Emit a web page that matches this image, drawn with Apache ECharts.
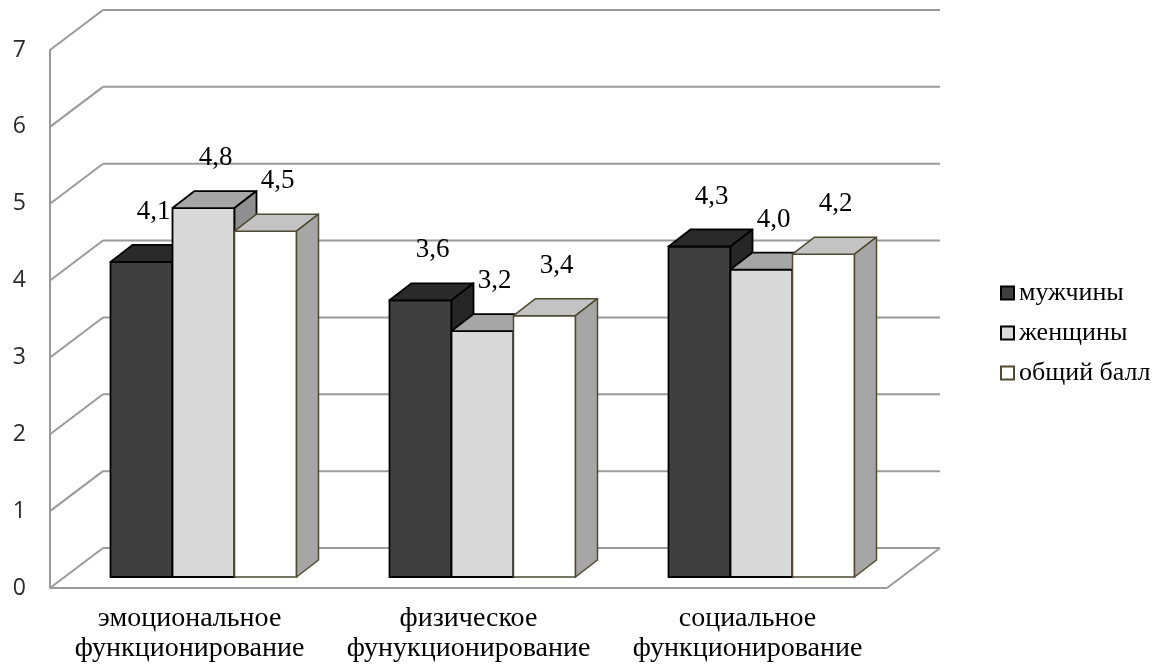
<!DOCTYPE html>
<html>
<head>
<meta charset="utf-8">
<script src="https://cdn.jsdelivr.net/npm/echarts@6/dist/echarts.min.js"></script>
<style>
  html, body { margin: 0; padding: 0; background: #fff; }
  #chart { width: 1162px; height: 670px; }
</style>
</head>
<body>
<div id="chart"></div>
<script>
// Scores by functioning domain
const categories = [
  'эмоциональное\nфункционирование',
  'физическое\nфунукционирование',
  'социальное\nфункционирование'
];
const seriesNames = ['мужчины', 'женщины', 'общий балл'];
const men = [4.1, 3.6, 4.3];
const women = [4.8, 3.2, 4.0];
const total = [4.5, 3.4, 4.2];
const yTicks = [0, 1, 2, 3, 4, 5, 6, 7];

// Pseudo-3D geometry (pixels)
const WALL_DX = 53, WALL_DY = -40;     // depth of the back wall
const FRONT_DX = 14, FRONT_DY = -11;   // bar front face inset
const BAR_DX = 22, BAR_DY = -17;       // bar depth
const BAR_RATIO = 62 / 279;            // bar width per category band

const palette = [
  { front: '#3f3f3f', top: '#2a2a2a', side: '#262626', stroke: '#000000' },
  { front: '#d9d9d9', top: '#a6a6a6', side: '#8f8f8f', stroke: '#000000' },
  { front: '#ffffff', top: '#c3c3c3', side: '#a6a6a6', stroke: '#4f4a32' }
];

const GRID_COLOR = '#9a9a9a';
const serif = '"Liberation Serif", "Times New Roman", serif';

function fmt(v) { return v.toFixed(1).replace('.', ','); }

function frameItem(params, api) {
  const cs = params.coordSys;
  const v = api.value(0);
  const y = api.coord([0, v])[1];
  const left = cs.x, right = cs.x + cs.width;
  const lineStyle = { stroke: GRID_COLOR, lineWidth: 2 };
  const children = [
    { type: 'line', shape: { x1: left, y1: y, x2: left + WALL_DX, y2: y + WALL_DY }, style: lineStyle },
    { type: 'line', shape: { x1: left + WALL_DX, y1: y + WALL_DY, x2: right + WALL_DX, y2: y + WALL_DY }, style: lineStyle }
  ];
  if (v === 0) {
    children.push(
      { type: 'line', shape: { x1: left, y1: y, x2: right, y2: y }, style: lineStyle },
      { type: 'line', shape: { x1: right, y1: y, x2: right + WALL_DX, y2: y + WALL_DY }, style: lineStyle }
    );
  }
  return { type: 'group', children };
}

function barItem(idx) {
  const c = palette[idx];
  return function (params, api) {
    const cat = api.value(0), val = api.value(1);
    const base = api.coord([cat, 0]);
    const top = api.coord([cat, val]);
    const band = api.size([1, 0])[0];
    const bw = band * BAR_RATIO;
    const x0 = base[0] + FRONT_DX - 1.5 * bw + idx * bw;
    const x1 = x0 + bw;
    const yb = base[1] + FRONT_DY;
    const yt = top[1] + FRONT_DY;
    const sw = idx === 2 ? 1.5 : 1.8;
    const cx = (x0 + x1) / 2;
    return {
      type: 'group',
      children: [
        { type: 'rect', shape: { x: x0, y: yt, width: bw, height: yb - yt },
          style: { fill: c.front, stroke: c.stroke, lineWidth: sw } },
        { type: 'polygon', shape: { points: [[x0, yt], [x1, yt], [x1 + BAR_DX, yt + BAR_DY], [x0 + BAR_DX, yt + BAR_DY]] },
          style: { fill: c.top, stroke: c.stroke, lineWidth: sw, lineJoin: 'round' } },
        { type: 'polygon', shape: { points: [[x1, yt], [x1 + BAR_DX, yt + BAR_DY], [x1 + BAR_DX, yb + BAR_DY], [x1, yb]] },
          style: { fill: c.side, stroke: c.stroke, lineWidth: sw, lineJoin: 'round' } },
        { type: 'text', x: cx + 12, y: yt - 50, z2: 10,
          style: { text: fmt(val), x: 0, y: 0, align: 'center', verticalAlign: 'middle',
                   fill: '#000', fontSize: 27, fontFamily: serif } }
      ]
    };
  };
}

const seriesData = [men, women, total];

const chart = echarts.init(document.getElementById('chart'), null, { renderer: 'canvas' });
chart.setOption({
  animation: false,
  backgroundColor: '#ffffff',
  grid: { left: 50, top: 50, width: 837, height: 538 },
  legend: {
    orient: 'vertical',
    left: 995,
    top: 275,
    itemWidth: 13,
    itemHeight: 13,
    itemGap: 14,
    icon: 'rect',
    textStyle: { fontFamily: serif, fontSize: 26, color: '#000', lineHeight: 26 },
    data: seriesNames.map((n, i) => ({
      name: n,
      itemStyle: { color: palette[i].front, borderColor: palette[i].stroke, borderWidth: 2 }
    }))
  },
  xAxis: {
    type: 'category',
    data: categories,
    axisLine: { show: false },
    axisTick: { show: false },
    splitLine: { show: false },
    axisLabel: {
      margin: 16,
      fontFamily: serif,
      fontSize: 28,
      lineHeight: 30,
      color: '#000',
      interval: 0
    }
  },
  yAxis: {
    type: 'value',
    min: 0,
    max: 7,
    interval: 1,
    axisLine: { show: true, lineStyle: { color: GRID_COLOR, width: 2 } },
    axisTick: { show: false },
    splitLine: { show: false },
    axisLabel: {
      margin: 24,
      fontFamily: '"Open Sans", "Noto Sans", sans-serif',
      fontSize: 23,
      color: '#2a2a2a'
    }
  },
  series: [
    {
      type: 'custom',
      name: 'frame',
      silent: true,
      z: 1,
      renderItem: frameItem,
      data: yTicks.map(v => [v])
    }
  ].concat(seriesData.map((arr, i) => ({
    type: 'custom',
    name: seriesNames[i],
    z: 2,
    itemStyle: { color: palette[i].front, borderColor: palette[i].stroke },
    renderItem: barItem(i),
    encode: { x: 0, y: 1 },
    data: arr.map((v, k) => [k, v])
  })))
});
</script>
</body>
</html>
